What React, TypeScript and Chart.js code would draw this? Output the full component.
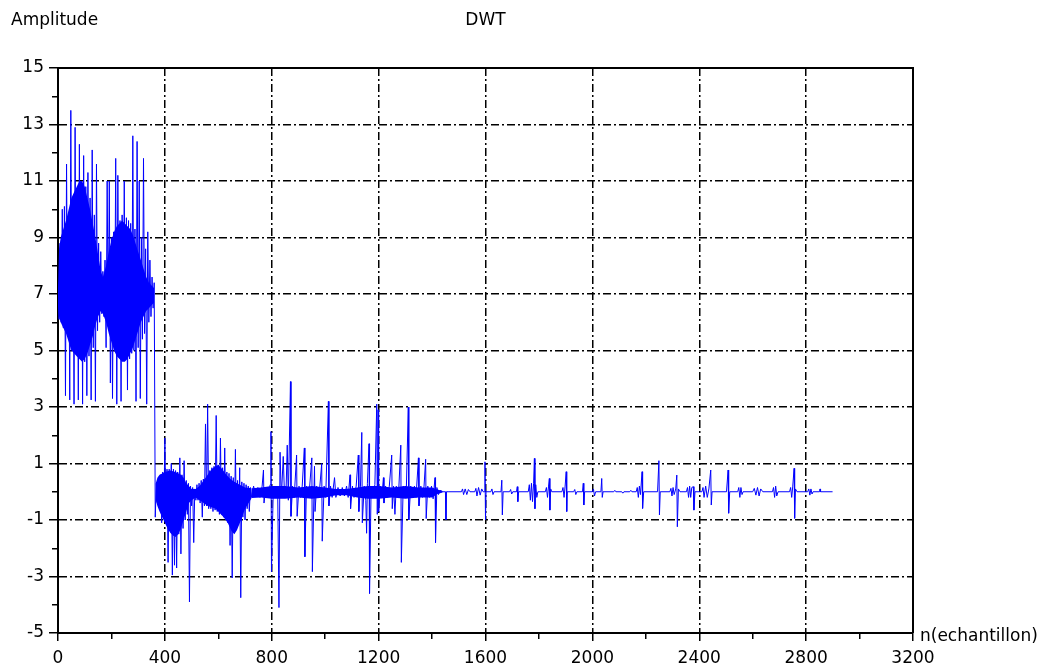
import React, { useEffect, useRef } from "react";
import { Chart, registerables } from "chart.js";

Chart.register(...registerables);

// ---- texts ----
const chartTitle = "DWT";
const yAxisTitle = "Amplitude";
const xAxisTitle = "n(echantillon)";

// ---- axis ranges / ticks ----
const xMin = 0;
const xMax = 3200;
const xMinorStep = 200;
const xMajorStep = 400;
const yMin = -5;
const yMax = 15;
const yMinorStep = 1;

// ---- signal: [sample index, amplitude] ----
// approximation coefficients block (n 0..364)
const approxBlock: [number, number][] = [
  [0, 7.0], [4, 6.1], [8, 8.8], [12, 6.0], [16, 10.0], [20, 5.8], [24, 10.1], [28, 3.4],
  [32, 11.6], [36, 5.5], [40, 9.6], [44, 3.25], [48, 13.5], [52, 5.3], [56, 10.0], [60, 3.1],
  [64, 12.9], [68, 5.0], [72, 10.4], [76, 3.25], [80, 12.3], [84, 4.8], [88, 10.9], [92, 3.1],
  [96, 11.9], [100, 4.6], [104, 10.8], [108, 3.4], [112, 11.3], [116, 4.8], [120, 10.4], [124, 3.25],
  [128, 12.1], [132, 5.1], [136, 9.8], [140, 3.2], [144, 11.6], [148, 5.7], [152, 8.8], [156, 6.0],
  [160, 8.5], [164, 6.3], [168, 7.8], [172, 6.2], [176, 8.2], [180, 5.1], [184, 11.0], [188, 5.9],
  [192, 11.0], [196, 3.85], [200, 9.0], [204, 3.3], [208, 9.2], [212, 5.3], [216, 11.8], [220, 3.1],
  [224, 11.2], [228, 5.0], [232, 9.6], [236, 3.2], [240, 9.8], [244, 4.8], [248, 11.0], [252, 4.7],
  [256, 9.7], [260, 3.6], [264, 9.6], [268, 4.7], [272, 9.5], [276, 4.9], [280, 12.6], [284, 5.0],
  [288, 9.3], [292, 3.2], [296, 12.4], [300, 5.1], [304, 11.0], [308, 3.3], [312, 9.0], [316, 5.4],
  [320, 11.8], [324, 5.6], [328, 8.6], [332, 3.1], [336, 9.2], [340, 6.0], [344, 8.2], [348, 6.2],
  [352, 7.6], [356, 6.5], [360, 7.4], [364, -0.9],
];

// first detail level, two bursts (n 368..720)
const detailBursts: [number, number][] = [
  [368, 0.3], [372, -0.4], [376, 0.5], [380, -0.6], [384, 0.6], [388, -1.1], [392, 0.7], [396, -0.9],
  [400, 1.9], [404, -1.0], [408, 0.8], [412, -2.5], [416, 0.8], [420, -1.3], [424, 1.0], [428, -2.95],
  [432, 0.8], [436, -2.6], [440, 0.75], [444, -2.7], [448, 0.7], [452, -1.5], [456, 1.2], [460, -2.2],
  [464, 0.6], [468, -1.3], [472, 1.1], [476, -1.0], [480, 0.4], [484, -0.8], [488, 0.3], [492, -3.9],
  [496, 0.2], [500, -0.5], [504, 0.15], [508, -1.8], [512, 0.1], [516, -0.3], [520, 0.25], [524, -0.3],
  [528, 0.3], [532, -0.4], [536, 0.4], [540, -0.9], [544, 0.45], [548, -0.5], [552, 2.4], [556, -0.5],
  [560, 3.1], [564, -0.6], [568, 0.75], [572, -0.6], [576, 0.85], [580, -0.7], [584, 0.9], [588, -0.65],
  [592, 2.7], [596, -0.7], [600, 0.95], [604, -0.8], [608, 1.9], [612, -0.8], [616, 0.85], [620, -0.9],
  [624, 1.55], [628, -1.0], [632, 0.7], [636, -1.1], [640, 0.65], [644, -1.9], [648, 0.55], [652, -3.05],
  [656, 0.5], [660, -1.4], [664, 1.5], [668, -1.3], [672, 0.4], [676, -1.1], [680, 0.85], [684, -3.75],
  [688, 0.35], [692, -0.9], [696, 0.3], [700, -1.0], [704, 0.25], [708, -0.6], [712, 0.2], [716, -0.7],
  [720, 0.15],
];

// second detail level (n 724..1454)
const detailMid: [number, number][] = [
  [724, -0.2], [732, 0.2], [740, -0.15], [748, 0.15], [756, -0.2], [764, 0.2], [769, 0.77], [771, -0.4],
  [778, 0.15], [786, -0.2], [794, 0.25], [797, 2.13], [799, -2.83], [806, 0.2], [814, -0.2], [822, 0.2],
  [827, -4.1], [831, 1.4], [836, -0.2], [843, 1.25], [848, -0.2], [854, 0.2], [858, 1.65], [862, -0.3],
  [870, 3.9], [872, -0.87], [878, 0.2], [884, -0.2], [893, 1.3], [895, -0.87], [902, 0.2], [908, -0.2],
  [914, 0.2], [922, 1.55], [924, -2.3], [930, 0.2], [936, -0.2], [942, 0.2], [950, 1.2], [952, -2.83],
  [960, 0.9], [962, -0.7], [968, 0.2], [974, -0.2], [980, 0.2], [987, 1.0], [989, -1.75], [996, 0.2],
  [1002, -0.2], [1012, 3.2], [1014, -0.5], [1020, 0.2], [1026, -0.2], [1035, 0.5], [1040, -0.2], [1048, 0.15],
  [1056, -0.15], [1064, 0.15], [1072, -0.15], [1080, 0.2], [1086, -0.2], [1093, 0.6], [1095, -0.6], [1102, 0.2],
  [1108, -0.2], [1116, 0.2], [1124, 1.3], [1126, -0.7], [1132, 0.2], [1137, 2.1], [1139, -1.1], [1146, 0.2],
  [1152, -0.3], [1155, -1.47], [1158, 0.3], [1164, 1.7], [1166, -3.6], [1172, 0.2], [1178, -0.2], [1186, 0.25],
  [1193, 3.1], [1195, -0.8], [1198, 2.9], [1200, -0.7], [1206, 0.2], [1212, -0.2], [1218, 0.5], [1220, -0.4],
  [1226, 0.2], [1232, -0.2], [1240, 0.2], [1249, 1.3], [1251, -0.6], [1256, 0.2], [1261, -0.8], [1266, 0.2],
  [1274, -0.2], [1283, 1.65], [1285, -2.5], [1292, 0.2], [1298, -0.2], [1304, 0.2], [1311, 3.0], [1313, -1.0],
  [1320, 0.2], [1326, -0.2], [1334, 0.2], [1340, -0.2], [1349, 1.2], [1351, -0.5], [1358, 0.2], [1364, -0.2],
  [1370, 0.2], [1376, 1.15], [1378, -0.95], [1384, 0.2], [1390, -0.2], [1398, 0.2], [1404, -0.25], [1411, 0.5],
  [1413, -1.8], [1418, 0.15], [1424, -0.1], [1430, 0.05], [1440, 0], [1450, 0], [1452, -1.0], [1454, 0],
];

// finest detail level, sparse events (n 1460..2899)
const detailTail: [number, number][] = [
  [1460, 0], [1510, 0], [1514, 0.1], [1518, -0.1], [1524, 0.1], [1530, -0.1], [1536, 0.08], [1542, 0],
  [1560, 0], [1564, 0.12], [1568, -0.15], [1574, 0.15], [1580, -0.12], [1586, 0.1], [1591, 0], [1596, 0],
  [1598, 1.06], [1600, -1.0], [1602, 0], [1620, 0], [1624, 0.1], [1628, -0.1], [1632, 0], [1658, 0],
  [1661, 0.41], [1663, -0.82], [1666, 0], [1690, 0], [1694, 0.08], [1698, -0.08], [1702, 0], [1716, 0],
  [1719, 0.18], [1721, -0.35], [1724, 0], [1760, 0], [1764, 0.25], [1768, -0.3], [1772, 0.3], [1776, -0.35],
  [1780, 0.3], [1783, 1.18], [1785, -0.6], [1788, 0.25], [1792, -0.2], [1796, 0], [1824, 0], [1828, 0.15],
  [1832, -0.2], [1836, 0.2], [1839, 0.47], [1841, -0.65], [1844, 0.1], [1848, 0], [1886, 0], [1890, 0.15],
  [1894, -0.2], [1898, 0.2], [1902, 0.71], [1904, -0.7], [1906, 0], [1930, 0], [1934, 0.08], [1938, -0.1],
  [1942, 0], [1963, 0], [1966, 0.3], [1968, -0.47], [1971, 0], [2000, 0], [2004, 0.1], [2008, -0.15],
  [2012, 0], [2032, 0], [2035, 0.47], [2037, -0.2], [2040, 0], [2080, 0], [2084, 0.05], [2088, 0],
  [2110, 0], [2114, -0.05], [2118, 0], [2140, 0], [2144, 0.05], [2148, 0], [2164, 0], [2168, 0.15],
  [2172, -0.2], [2176, 0.2], [2180, -0.1], [2186, 0.71], [2188, -0.59], [2192, 0], [2244, 0], [2249, 1.1],
  [2251, -0.82], [2254, 0], [2290, 0], [2294, 0.12], [2298, -0.15], [2302, 0.15], [2306, -0.1], [2312, 0.1],
  [2316, 0.59], [2318, -1.24], [2322, 0.1], [2328, 0], [2352, 0], [2356, 0.15], [2360, -0.2], [2364, 0.2],
  [2368, -0.2], [2372, 0.15], [2378, 0.18], [2380, -0.65], [2384, 0], [2410, 0], [2414, 0.15], [2418, -0.2],
  [2424, 0.2], [2430, -0.2], [2436, 0.1], [2443, 0.77], [2445, -0.47], [2448, 0], [2502, 0], [2508, 0.77],
  [2510, -0.76], [2514, 0], [2544, 0], [2548, 0.15], [2552, -0.2], [2556, 0.15], [2560, -0.1], [2564, 0],
  [2600, 0], [2606, 0.12], [2612, -0.12], [2618, 0.15], [2624, -0.15], [2630, 0.1], [2638, 0], [2674, 0],
  [2678, 0.15], [2682, -0.2], [2686, 0.2], [2690, -0.15], [2695, 0], [2738, 0], [2742, 0.15], [2746, -0.2],
  [2750, 0.2], [2755, 0.83], [2757, -0.94], [2760, 0.1], [2766, 0], [2806, 0], [2810, 0.1], [2814, -0.12],
  [2818, 0.1], [2822, -0.08], [2826, 0], [2850, 0], [2852, 0.1], [2854, 0], [2899, 0],
];

// ---- dense-oscillation envelopes (where the trace fills solid blue) ----
const approxUpper: [number, number][] = [
  [0, 7.2], [4, 8.6], [10, 9.0], [20, 9.3], [30, 9.6], [40, 10.0], [50, 10.4], [60, 10.6], [70, 10.8],
  [80, 11.0], [90, 11.0], [100, 10.8], [110, 10.4], [120, 10.0], [130, 9.5], [140, 9.0], [150, 8.4],
  [160, 7.8], [168, 7.6], [180, 8.0], [190, 8.5], [200, 8.9], [210, 9.2], [220, 9.4], [230, 9.5],
  [240, 9.6], [250, 9.5], [260, 9.4], [270, 9.3], [280, 9.1], [290, 8.8], [300, 8.5], [310, 8.2],
  [320, 7.9], [330, 7.6], [340, 7.4], [350, 7.3], [360, 7.2],
];
const approxLower: [number, number][] = [
  [0, 6.8], [4, 6.2], [10, 6.0], [20, 5.8], [30, 5.6], [40, 5.3], [50, 5.0], [60, 4.9], [70, 4.8],
  [80, 4.7], [90, 4.6], [100, 4.7], [110, 4.9], [120, 5.2], [130, 5.5], [140, 5.9], [150, 6.2],
  [160, 6.4], [168, 6.3], [180, 6.0], [190, 5.6], [200, 5.3], [210, 5.0], [220, 4.8], [230, 4.7],
  [240, 4.6], [250, 4.6], [260, 4.7], [270, 4.9], [280, 5.1], [290, 5.4], [300, 5.7], [310, 6.0],
  [320, 6.2], [330, 6.4], [340, 6.5], [350, 6.6], [360, 6.7],
];
const burstUpper: [number, number][] = [
  [366, 0.3], [372, 0.5], [380, 0.6], [390, 0.65], [400, 0.7], [420, 0.75], [440, 0.7], [460, 0.6],
  [470, 0.5], [480, 0.3], [490, 0.2], [500, 0.1], [515, 0.1], [530, 0.2], [545, 0.4], [560, 0.6],
  [575, 0.8], [590, 0.9], [600, 0.95], [615, 0.8], [630, 0.6], [645, 0.45], [660, 0.35], [680, 0.25],
  [700, 0.15], [725, 0.12],
];
const burstLower: [number, number][] = [
  [366, -0.3], [372, -0.5], [380, -0.7], [390, -0.9], [400, -1.1], [410, -1.3], [420, -1.45], [430, -1.55],
  [440, -1.6], [450, -1.5], [460, -1.3], [470, -1.0], [480, -0.7], [490, -0.4], [500, -0.3], [515, -0.2],
  [530, -0.3], [545, -0.4], [560, -0.5], [575, -0.55], [590, -0.6], [605, -0.75], [620, -0.9], [635, -1.1],
  [650, -1.4], [660, -1.5], [670, -1.35], [685, -1.0], [700, -0.6], [725, -0.22],
];
const midUpper: [number, number][] = [
  [725, 0.12], [760, 0.15], [800, 0.2], [850, 0.2], [900, 0.15], [950, 0.2], [1000, 0.15], [1040, 0.1],
  [1080, 0.1], [1120, 0.15], [1160, 0.2], [1200, 0.2], [1250, 0.15], [1300, 0.2], [1350, 0.15],
  [1400, 0.15], [1420, 0.08], [1440, 0.03],
];
const midLower: [number, number][] = [
  [725, -0.22], [760, -0.2], [800, -0.25], [850, -0.25], [900, -0.2], [950, -0.25], [1000, -0.2],
  [1040, -0.12], [1080, -0.12], [1120, -0.2], [1160, -0.25], [1200, -0.25], [1250, -0.2], [1300, -0.25],
  [1350, -0.2], [1400, -0.2], [1420, -0.08], [1440, -0.03],
];

const BLUE = "#0000ff";
const FONT = "'DejaVu Sans', 'Liberation Sans', sans-serif";

const toPoints = (arr: [number, number][]) => arr.map(([x, y]) => ({ x, y }));

const framePlugin = {
  id: "scilabFrame",
  afterDraw(chart: any) {
    const { ctx, chartArea } = chart;
    const { left, right, top, bottom } = chartArea;
    ctx.save();
    ctx.strokeStyle = "#000";
    ctx.lineWidth = 2;
    ctx.beginPath();
    ctx.moveTo(left, top);
    ctx.lineTo(right, top);
    ctx.lineTo(right, bottom);
    ctx.stroke();
    ctx.fillStyle = "#000";
    ctx.font = `17px ${FONT}`;
    ctx.textBaseline = "alphabetic";
    ctx.textAlign = "left";
    ctx.fillText(yAxisTitle, 11, 25);
    ctx.textAlign = "center";
    ctx.fillText(chartTitle, (left + right) / 2, 25);
    ctx.textAlign = "left";
    ctx.fillText(xAxisTitle, right + 7, bottom + 8);
    ctx.restore();
  },
};

export default function App() {
  const canvasRef = useRef<HTMLCanvasElement | null>(null);

  useEffect(() => {
    const canvas = canvasRef.current;
    if (!canvas) return;
    const signal = toPoints([...approxBlock, ...detailBursts, ...detailMid, ...detailTail]);

    const envelope = (upper: [number, number][], lower: [number, number][]) => [
      {
        data: toPoints(upper),
        borderWidth: 0,
        borderColor: "rgba(0,0,0,0)",
        backgroundColor: BLUE,
        pointRadius: 0,
        fill: "+1",
        tension: 0,
      },
      {
        data: toPoints(lower),
        borderWidth: 0,
        borderColor: "rgba(0,0,0,0)",
        backgroundColor: BLUE,
        pointRadius: 0,
        fill: false,
        tension: 0,
      },
    ];

    const chart = new Chart(canvas, {
      type: "line",
      data: {
        datasets: [
          ...envelope(approxUpper, approxLower),
          ...envelope(burstUpper, burstLower),
          ...envelope(midUpper, midLower),
          {
            data: signal,
            borderColor: BLUE,
            borderWidth: 1,
            pointRadius: 0,
            fill: false,
            tension: 0,
          },
        ],
      },
      options: {
        responsive: false,
        animation: false,
        parsing: false,
        normalized: true,
        devicePixelRatio: 1,
        layout: { padding: { left: 0, top: 68, right: 136, bottom: 0 } },
        plugins: {
          legend: { display: false },
          tooltip: { enabled: false },
          title: { display: false },
        },
        scales: {
          x: {
            type: "linear",
            min: xMin,
            max: xMax,
            afterFit: (s: any) => {
              s.height = 38;
            },
            ticks: {
              stepSize: xMinorStep,
              autoSkip: false,
              maxRotation: 0,
              minRotation: 0,
              padding: 7,
              color: "#000",
              font: { family: FONT, size: 17 },
              callback: (v: any) => (Number(v) % xMajorStep === 0 ? String(v) : ""),
            },
            grid: {
              color: (c: any) => {
                const v = c.tick ? c.tick.value : 0;
                return v % xMajorStep === 0 && v > xMin && v < xMax ? "#000" : "rgba(0,0,0,0)";
              },
              lineWidth: 1.5,
              tickLength: 8,
              tickColor: "#000",
              tickWidth: 1.5,
              tickBorderDash: (c: any) => (c.tick && c.tick.value % xMajorStep === 0 ? [] : [5, 100]),
            },
            border: { display: true, color: "#000", width: 2, dash: [8, 3, 2, 3] },
          },
          y: {
            type: "linear",
            min: yMin,
            max: yMax,
            afterFit: (s: any) => {
              s.width = 58;
            },
            ticks: {
              stepSize: yMinorStep,
              autoSkip: false,
              padding: 5,
              color: "#000",
              font: { family: FONT, size: 17 },
              callback: (v: any) => (Math.abs(Number(v)) % 2 === 1 ? String(v) : ""),
            },
            grid: {
              color: (c: any) => {
                const v = c.tick ? c.tick.value : 0;
                return Math.abs(v) % 2 === 1 && v > yMin && v < yMax ? "#000" : "rgba(0,0,0,0)";
              },
              lineWidth: 1.5,
              tickLength: 9,
              tickColor: "#000",
              tickWidth: 1.5,
              tickBorderDash: (c: any) => (c.tick && Math.abs(c.tick.value) % 2 === 1 ? [] : [0, 3, 6, 100]),
            },
            border: { display: true, color: "#000", width: 2, dash: [8, 3, 2, 3] },
          },
        },
      },
      plugins: [framePlugin],
    } as any);

    return () => chart.destroy();
  }, []);

  return (
    <div style={{ position: "absolute", left: 0, top: 0, width: 1049, height: 671, background: "#fff" }}>
      <canvas ref={canvasRef} width={1049} height={671} style={{ display: "block", width: 1049, height: 671 }} />
    </div>
  );
}
